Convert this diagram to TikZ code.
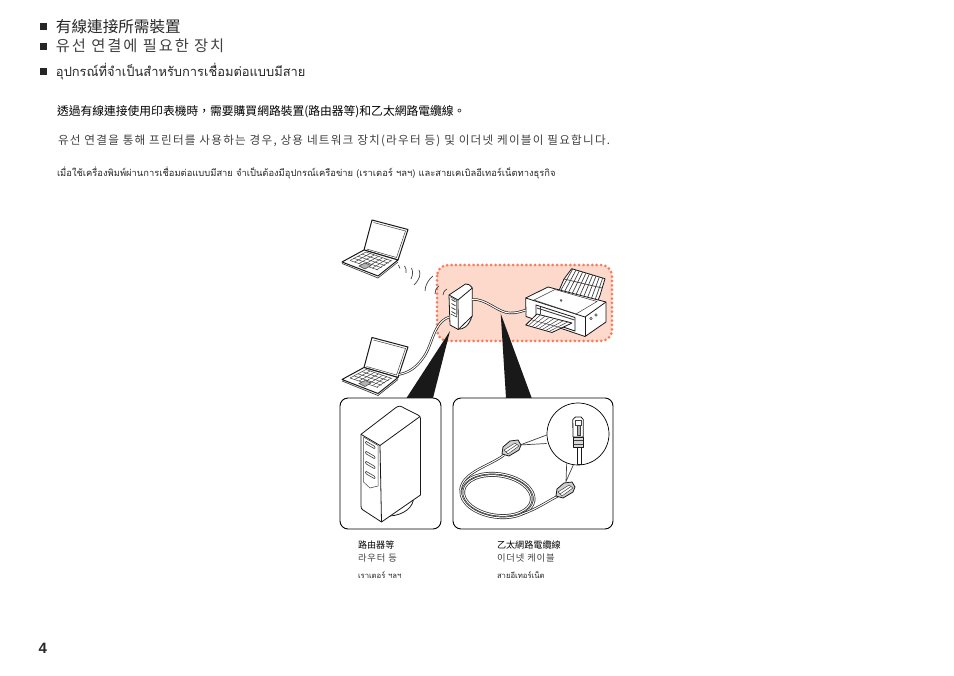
\documentclass[tikz,border=0pt]{standalone}
\usepackage{fontspec}
\setmainfont{Liberation Sans}
\newfontfamily\tcfont{Noto Sans CJK TC}
\newfontfamily\krfont{Noto Sans CJK KR}
\newfontfamily\thaifont[Script=Thai]{Loma}
\usetikzlibrary{calc,positioning}
\definecolor{peach}{HTML}{FCD9CA}
\definecolor{dots}{HTML}{FB7A5E}
\tikzset{
    txt/.style={anchor=base west, inner sep=0pt, outer sep=0pt, text=black!85},
    krtxt/.style={txt, text=black!75},
    bullet/.style={rectangle, fill=black!85, inner sep=0pt, minimum size=7pt},
    panel/.style={rectangle, rounded corners=8pt, draw=black, line width=0.9pt, fill=white, inner sep=0pt},
    cable/.style={draw=black!85, line width=0.7pt, double=white, double distance=1pt},
    edge/.style={draw=black!90, line width=0.8pt, line join=round, fill=white},
    fine/.style={draw=black!75, line width=0.5pt},
    laptop/.pic={
        \draw[edge, line width=1pt] (30,0) -- (66,9.5) -- (56,40) -- (22,30) -- cycle;
        \draw[fine] (31.5,2.5) -- (63.5,11) -- (54.5,37.5) -- (24.5,29);
        \draw[edge, line width=1pt] (0,42) -- (22,30) -- (56,40) -- (36,56) -- cycle;
        \draw[fine, line width=0.7pt] (0,43.5) -- (36,58) -- (56,42);
        \foreach \t in {0,0.16,...,1}
            \draw[fine] ($(8,40.5)!\t!(36,50)$) -- ($(24,32)!\t!(50,41)$);
        \foreach \t in {0,0.25,...,1}
            \draw[fine] ($(8,40.5)!\t!(24,32)$) -- ($(36,50)!\t!(50,41)$);
        \draw[fine, fill=black!30] (17,46) -- (23,43) -- (29,45.5) -- (23,49) -- cycle;
    },
    plug/.pic={
        \draw[edge, fill=black!18] (-9,6) -- (-8,-1) -- (-1,-7) -- (7,-8) -- (10,-3) -- (8,2) -- (-2,8) -- cycle;
        \draw[fine, fill=white] (-7,2) -- (4,-5) -- (8,-2) -- (-3,6) -- cycle;
        \draw[fine] (-5,4) -- (6,-3.5);
    },
}
\begin{document}
\begin{tikzpicture}[x=1pt, y=-1pt]
    \useasboundingbox (0,0) rectangle (954,676);
    % headings
    \node[bullet] (bullet1) at (43.5,27) {};
    \node[bullet] (bullet2) at (43.5,47) {};
    \node[bullet] (bullet3) at (43.5,72) {};
    \node[txt, font=\tcfont\fontsize{15.6}{18}\selectfont] (head1) at (56,33) {有線連接所需裝置};
    \node[krtxt, font=\krfont\addfontfeature{LetterSpace=12.5}\fontsize{15.3}{18}\selectfont] (head2) at (56,52) {유선 연결에 필요한 장치};
    \node[txt, font=\thaifont\fontsize{12.9}{18}\selectfont] (head3) at (56,77) {อุปกรณ์ที่จำเป็นสำหรับการเชื่อมต่อแบบมีสาย};
    % body text
    \node[txt, font=\tcfont\fontsize{11.78}{14}\selectfont, text=black] (body1) at (57,116) {透過有線連接使用印表機時，需要購買網路裝置(路由器等)和乙太網路電纜線。};
    \node[krtxt, font=\krfont\addfontfeature{LetterSpace=10.7}\fontsize{11.6}{14}\selectfont] (body2) at (58,145) {유선 연결을 통해 프린터를 사용하는 경우, 상용 네트워크 장치(라우터 등) 및 이더넷 케이블이 필요합니다.};
    \node[txt, font=\thaifont\fontsize{9.37}{12}\selectfont] (body3) at (57,176.5) {เมื่อใช้เครื่องพิมพ์ผ่านการเชื่อมต่อแบบมีสาย จำเป็นต้องมีอุปกรณ์เครือข่าย (เราเตอร์ ฯลฯ) และสายเคเบิลอีเทอร์เน็ตทางธุรกิจ};
    % network area
    \draw[fill=peach, draw=none, rounded corners=11pt] (437,265) rectangle (612,341);
    \draw[dots, line width=3pt, line cap=round, dash pattern=on 0pt off 4.4pt, rounded corners=11pt] (437,265) rectangle (612,341);
    % laptops
    \pic (laptoptop) at (342,220) {laptop};
    \pic (laptopbottom) at (342,337.5) {laptop};
    % radio waves
    \draw[fine, line width=0.7pt]
        (398.5,265) .. controls (399.5,266) and (400,267) .. (400,268.5)
        (404.5,266) .. controls (406,268) and (406.5,270) .. (406,273)
        (411.5,268) .. controls (413,271) and (413,275) .. (411,279)
        (419,270) .. controls (421,274) and (420,279) .. (414,285)
        (433,276) .. controls (429,279) and (425,285) .. (425,291)
        (439,286) .. controls (436,288) and (435,291) .. (435,294)
        (447,289) .. controls (444,291) and (443,293) .. (443,295);
    % small router
    \coordinate (routerport) at (472,299.5);
    \coordinate (routerback) at (449.5,317);
    \draw[edge] (458,329) .. controls (463,330) and (469,326) .. (472,316);
    \draw[edge] (449,295) -- (465.5,284) .. controls (468,283.5) and (470,285) .. (472.3,288) -- (472.3,316) -- (458.3,329.5) -- (450,325) -- cycle;
    \draw[edge, fill=none] (449,295) -- (458,300) -- (458.3,329.5);
    \draw[edge, fill=none] (458,300) -- (472.3,288);
    \draw[fine] (450.5,297) -- (456.5,300.5) -- (456.7,317) -- (450.8,314);
    \foreach \y in {0,4,8,12}
        \draw[fine, line width=0.8pt] (451.5,299.5+\y) -- (455.5,301.8+\y);
    % printer
    \coordinate (printerport) at (525.7,310);
    \draw[edge] (558,293) -- (564,279) -- (571.7,268.7) -- (605,278.7) -- (600,295.3) -- (597,303) -- cycle;
    \foreach \t in {0.03,0.13,...,1}
        \draw[fine, line width=0.7pt] ($(571.7,268.7)!\t!(605,278.7)$) -- ($(558,293)!\t!(597,303)$);
    \draw[fine, line width=0.7pt] (564,279) -- (602,288);
    \draw[edge] (525.7,298) -- (548,287) -- (606,302) -- (606,322) -- (585,336.5) -- (526,316.5) -- cycle;
    \draw[edge, fill=none] (525.7,298) -- (585,317) -- (606,302);
    \draw[edge, fill=none] (585,317) -- (585,336.5);
    \draw[fine] (534,300) -- (555,289.5) -- (597,301.5) -- (576,314) -- cycle;
    \draw[fine, fill=black!25] (561,300.5) circle (0.9pt);
    \draw[edge, fill=white] (536,305) -- (575,317.5) -- (575,331) -- (536,318) -- cycle;
    \draw[fine, line width=0.9pt] (537,308) -- (574.5,320);
    \draw[edge] (525.7,325) -- (537,314) -- (572,323) -- (552,332.5) -- cycle;
    \foreach \t in {0.1,0.23,...,1}
        \draw[fine] ($(537,314)!\t!(572,323)$) -- ($(525.7,325)!\t!(552,332.5)$);
    \draw[fine] (531,319.7) -- (562,328);
    \draw[fine] (540,307) -- (540,314);
    \draw[fine] (591,318.5) circle (1.2pt) (596,315) circle (1.2pt);
    % network cables
    \draw[cable] (routerport) .. controls (486,298) and (498,313) .. (510,313) .. controls (516,313) and (520,312) .. (printerport);
    \draw[cable] (routerback) .. controls (433,322) and (433,345) .. (423,358) .. controls (416,368) and (408,373) .. (398.5,374.5);
    % pointers
    \node[panel, minimum width=101pt, minimum height=131pt] (routerbox) at (390.5,463.5) {};
    \node[panel, minimum width=160pt, minimum height=131pt] (cablebox) at (533,463.5) {};
    \coordinate (routertip) at (450,331);
    \coordinate (cabletip) at (500.7,313.5);
    \fill[black!90] (routertip) -- (433,398) -- (406.5,398) -- cycle;
    \fill[black!90] (cabletip) -- (531.7,398) -- (506,398) -- cycle;
    % big router
    \draw[edge] (413.5,497) .. controls (414,507) and (404,515) .. (390,516);
    \draw[edge] (361,434.3) -- (396,407.5) .. controls (399,405.5) and (401,406) .. (404,408) -- (418,415) .. controls (420,416) and (420.5,417) .. (420.5,419) -- (420.5,495) -- (381.5,522) -- (363,510) .. controls (361.5,509) and (361,508) .. (361,506) -- cycle;
    \draw[edge, fill=none] (361,434.3) -- (380,445.5) -- (381.5,522);
    \draw[edge, fill=none] (380,445.5) -- (420,416.5);
    \draw[fine] (363.5,437) -- (378,445.5) -- (378,486) -- (370,488) -- (363.5,482) -- cycle;
    \foreach \y in {0,10,20,30}
        \draw[fine, line width=0.6pt, rounded corners=1pt] (365.5,441+\y) -- (375,446.5+\y) -- (375,449+\y) -- (365.5,443.5+\y) -- cycle;
    % cable with coil
    \draw[cable] (497.5,495.5) ellipse [x radius=37pt, y radius=22pt, rotate=-8];
    \draw[cable] (497.5,495.5) ellipse [x radius=34pt, y radius=19.5pt, rotate=-8];
    \draw[cable] (504,455) .. controls (490,466) and (462,472) .. (460.5,490);
    \draw[cable] (558,496) .. controls (548,501) and (535,510) .. (522,514);
    \pic (plugone) at (511,448) {plug};
    \pic (plugtwo) at (565,490) {plug};
    % magnifier
    \node[circle, draw=black, line width=0.7pt, minimum size=62pt, inner sep=0pt] (lens) at (578,434) {};
    \draw[fine, line width=0.7pt] (520,445) -- (546.7,435);
    \draw[fine, line width=0.7pt] (520,445) -- (546.7,443.5);
    \draw[fine, line width=0.7pt] (566.7,463.3) -- (566,481.5) -- (573.3,465);
    \draw[edge, line width=0.6pt] (576.8,447) rectangle (581,464);
    \draw[edge, line width=0.6pt, fill=black!15] (573.5,437) rectangle (583,447.5);
    \draw[edge, line width=0.8pt] (572.8,419.5) -- (575.5,417) -- (581,417) -- (583.3,419.5) -- (583.3,437) -- (573,437) -- cycle;
    \draw[fine, line width=0.7pt] (575.5,420) rectangle (581,425);
    \draw[fine, fill=black!30] (576.8,425) rectangle (579.8,435);
    \draw[fine] (573.5,440.5) -- (583,440.5) (573.5,444) -- (583,444);
    % labels
    \node[txt, font=\tcfont\fontsize{9.1}{11}\selectfont, text=black] (routername) at (358,548) {路由器等};
    \node[krtxt, font=\krfont\addfontfeature{LetterSpace=9}\fontsize{9.3}{11}\selectfont] (routerkr) at (358,561) {라우터 등};
    \node[txt, font=\thaifont\fontsize{7.7}{10}\selectfont] (routerth) at (358,578) {เราเตอร์ ฯลฯ};
    \node[txt, font=\tcfont\fontsize{9.1}{11}\selectfont, text=black] (cablename) at (497,548) {乙太網路電纜線};
    \node[krtxt, font=\krfont\addfontfeature{LetterSpace=9}\fontsize{9.3}{11}\selectfont] (cablekr) at (497,561) {이더넷 케이블};
    \node[txt, font=\thaifont\fontsize{7.7}{10}\selectfont] (cableth) at (497,578) {สายอีเทอร์เน็ต};
    % page number
    \node[txt, font=\bfseries\fontsize{15}{18}\selectfont] (pagenum) at (38.5,653) {4};
\end{tikzpicture}
\end{document}
